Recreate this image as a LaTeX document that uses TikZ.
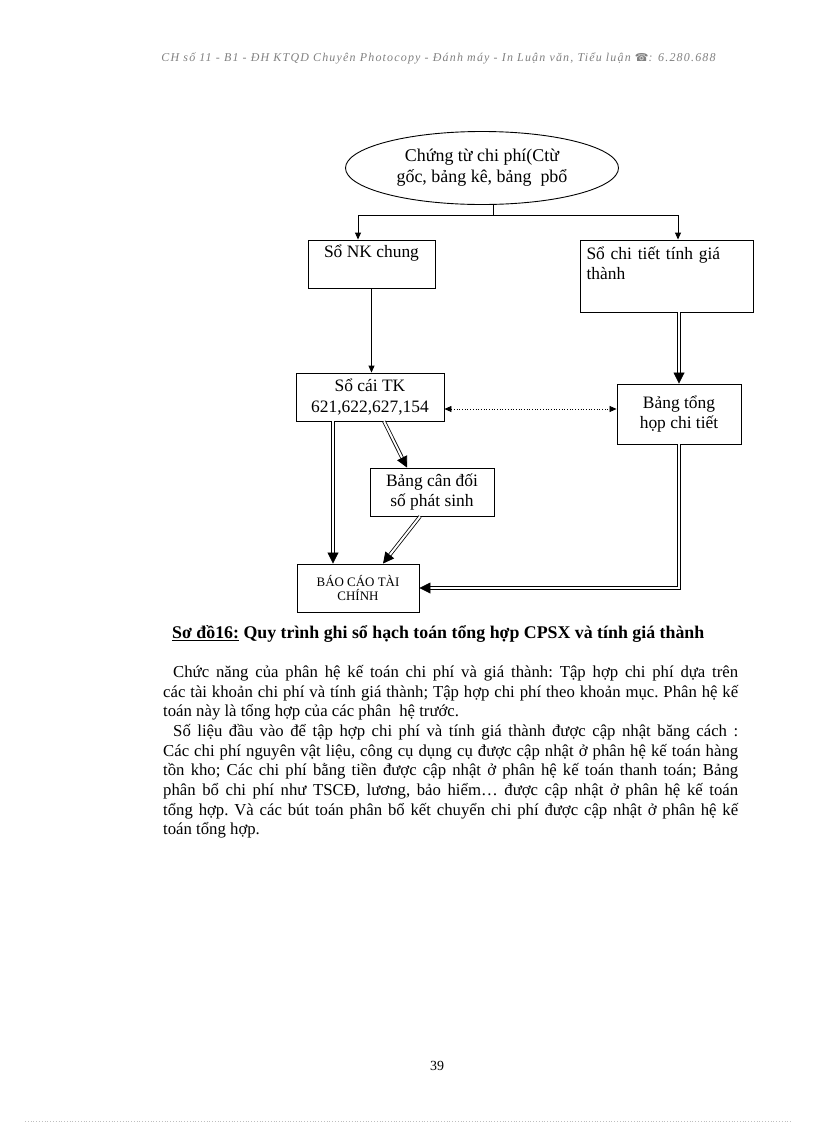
\documentclass[tikz,border=0pt]{standalone}
\usepackage{fontspec}
\setmainfont{Liberation Serif}
\newfontfamily\symfont{DejaVu Sans}
\usetikzlibrary{arrows.meta,shapes.geometric}
\begin{document}
\begin{tikzpicture}[x=1bp,y=-1bp,
  box/.style={draw, line width=0.9bp, inner sep=2bp, font=\fontsize{17.5}{20}\selectfont, align=center},
  arr/.style={line width=0.9bp, -{Triangle[length=7bp,width=6bp]}},
  dbl/.style={double, double distance=2bp, line width=0.8bp, -{Triangle[length=11bp,width=11bp]}},
  dotarr/.style={line width=0.7bp, dotted, {Triangle[length=7bp,width=6bp]}-{Triangle[length=7bp,width=6bp]}}
]
\useasboundingbox (0,0) rectangle (816,1123);

% header
\node[text=black!50, font=\fontsize{12}{12}\selectfont\itshape\addfontfeatures{LetterSpace=10}] (hdr) at (438.5,58)
  {CH số 11 - B1 - ĐH KTQD Chuyên Photocopy - Đánh máy - In Luận văn, Tiểu luận {\symfont\fontsize{11}{12}\selectfont ☎}: 6.280.688};

% nodes
\node[ellipse, draw, line width=0.9bp, minimum width=273bp, minimum height=73bp, inner sep=0pt,
  font=\fontsize{18}{21}\selectfont, align=center] (E) at (482,168)
  {Chứng từ chi phí(Ctừ\\gốc, bảng kê, bảng \ pbổ};
\node[box, minimum width=127bp, minimum height=48bp] (NK) at (371.5,264) {Sổ NK chung\\\strut};
\node[box, minimum width=173bp, minimum height=72bp, text width=160bp, align=left] (CT) at (666.5,276)
  {Sổ chi tiết tính giá\\thành\\\strut};
\node[box, minimum width=148bp, minimum height=48bp, font=\fontsize{17.5}{21}\selectfont] (SC) at (370,397)
  {Sổ cái TK\\621,622,627,154};
\node[box, minimum width=124bp, minimum height=60bp] (BT) at (679,414)
  {Bảng tổng\\họp chi tiết};
\node[box, minimum width=124bp, minimum height=48bp, font=\fontsize{17.5}{21}\selectfont] (BC) at (432,492)
  {Bảng cân đối\\số phát sinh};
\node[box, minimum width=122bp, minimum height=48bp, font=\fontsize{13}{15}\selectfont] (BCTC) at (358,588)
  {BÁO CÁO TÀI\\CHÍNH};

% connectors
\coordinate (j) at (493,215);
\coordinate (jl) at (358,215);
\coordinate (jr) at (678,215);
\draw[line width=0.9bp] (j |- E.south) -- (j);
\draw[line width=0.9bp] (jl) -- (jr);
\draw[arr] (jl) -- (jl |- NK.north);
\draw[arr] (jr) -- (jr |- CT.north);
\draw[arr] (NK.south) -- (NK.south |- SC.north);
\draw[dbl] (BT.north |- CT.south) -- (BT.north);
\draw[dotarr] ([yshift=-12bp]SC.east) -- ([yshift=-12bp]SC.east -| BT.west);
\draw[dbl] ([xshift=-37bp]SC.south) -- ([xshift=-37bp]SC.south |- BCTC.north);
\draw[dbl] ([xshift=14bp]SC.south) -- ([xshift=-25bp]BC.north);
\draw[dbl] ([xshift=-12bp]BC.south) -- ([xshift=25bp]BCTC.north);
\draw[dbl] (BT.south) |- (BCTC.east);

% caption
\node[anchor=west, font=\fontsize{17.9}{20}\selectfont\bfseries, inner sep=0pt] (cap) at (172,634)
  {\underline{Sơ đồ16:} Quy trình ghi sổ hạch toán tổng hợp CPSX và tính giá thành};

% paragraph
\node[anchor=north west, inner sep=0pt, text width=575bp, align=justify,
  font=\fontsize{16.8}{19.75}\selectfont\frenchspacing] (par) at (163,665)
{\hspace*{10bp}Chức năng của phân hệ kế toán chi phí và giá thành: Tập hợp chi phí dựa trên\linebreak
các tài khoản chi phí và tính giá thành; Tập hợp chi phí theo khoản mục. Phân hệ kế\linebreak
toán này là tổng hợp của các phân \ hệ trước.\par
\hspace*{10bp}Số liệu đầu vào để tập hợp chi phí và tính giá thành được cập nhật băng cách :\linebreak
Các chi phí nguyên vật liệu, công cụ dụng cụ được cập nhật ở phân hệ kế toán hàng\linebreak
tồn kho; Các chi phí bằng tiền được cập nhật ở phân hệ kế toán thanh toán; Bảng\linebreak
phân bổ chi phí như TSCĐ, lương, bảo hiểm… được cập nhật ở phân hệ kế toán\linebreak
tổng hợp. Và các bút toán phân bổ kết chuyển chi phí được cập nhật ở phân hệ kế\linebreak
toán tổng hợp.};

% page number
\node[font=\fontsize{14}{16}\selectfont] (pg) at (437,1066) {39};
\coordinate (dl) at (25,1121.5);
\coordinate (dr) at (792,1121.5);
\draw[black!25, line width=0.8bp, dotted] (dl) -- (dr);
\end{tikzpicture}
\end{document}
